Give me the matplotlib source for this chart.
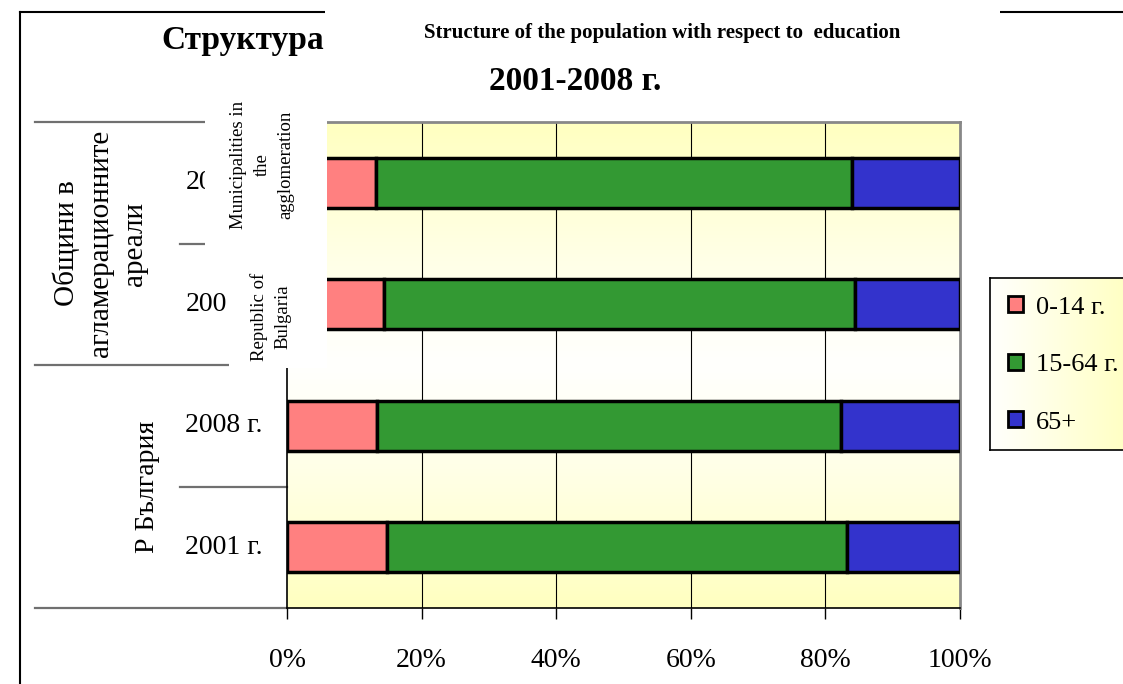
import numpy as np
import matplotlib.pyplot as plt
from matplotlib.patches import Rectangle, Patch
from matplotlib.lines import Line2D
from matplotlib import transforms

plt.rcParams['font.family'] = ['Liberation Serif', 'DejaVu Serif']

# data (bottom to top)
years = ['2001 г.', '2008 г.', '2001 г.', '2008 г.']
groups = ['Р България', 'Общини в\nагламерационните\nареали']
groups_en = ['Republic of\nBulgaria', 'Municipalities in\nthe\nagglomeration']
age_0_14 = [14.9, 13.4, 14.4, 13.2]
age_15_64 = [68.3, 68.9, 70.0, 70.8]
age_65 = [16.8, 17.7, 15.6, 16.0]
series_names = ['0-14 г.', '15-64 г.', '65+']
colors = ['#FF8080', '#339933', '#3333CC']

W, H = 1123, 684
def fx(x):
    return x / W
def fy(y):
    return 1 - y / H

fig = plt.figure(figsize=(W / 100, H / 100), dpi=100)
fig.patch.set_facecolor('white')

ax = fig.add_axes([fx(287), fy(608), (960 - 287) / W, (608 - 122) / H])

# background gradient yellow-white-yellow
t = np.abs(np.linspace(0, 1, 256) - 0.5) * 2
yel = np.array([255, 255, 192]) / 255
wht = np.array([255, 255, 253]) / 255
grad = wht[None, :] * (1 - t[:, None] ** 1.2) + yel[None, :] * (t[:, None] ** 1.2)
ax.imshow(grad[:, None, :], extent=[0, 100, -0.5, 3.5], aspect='auto', zorder=0)

y = np.arange(len(years))
left = np.zeros(len(years))
for vals, c in zip([age_0_14, age_15_64, age_65], colors):
    ax.barh(y, vals, left=left, height=0.41, color=c, edgecolor='black',
            linewidth=2.5, zorder=3)
    left += np.array(vals)

ax.set_xlim(0, 100)
ax.set_ylim(-0.5, 3.5)
ax.set_xticks(np.arange(0, 101, 20))
ax.set_xticklabels([f'{v}%' for v in range(0, 101, 20)], fontsize=20)
ax.tick_params(axis='x', direction='out', length=8, width=1, pad=21)
ax.set_yticks([])
for v in range(20, 100, 20):
    ax.axvline(v, color='black', lw=0.8, zorder=1)
ax.spines['top'].set_color('#888888')
ax.spines['right'].set_color('#888888')
ax.spines['top'].set_linewidth(2)
ax.spines['right'].set_linewidth(2)
ax.spines['left'].set_linewidth(1.2)
ax.spines['bottom'].set_linewidth(1.2)

# multi-level category axis
bt = transforms.blended_transform_factory(ax.transAxes, ax.transData)
for i, b in enumerate(np.arange(len(years) + 1) - 0.5):
    x0 = 35 if i % 2 == 0 else 180
    ax.plot([(x0 - 287) / 673, 0], [b, b], color='#707070', lw=1.6,
            transform=bt, clip_on=False, zorder=1)
# label column is partly hidden by the english boxes
cuts = [None, None, 228, 205]
for i, lab in enumerate(years):
    tx = ax.text((224 - 287) / 673, i, lab, transform=bt, ha='center',
                 va='center', fontsize=20)
    if cuts[i] is not None:
        tx.set_text(lab[:3] if i == 2 else lab[:2])
        tx.set_ha('left')
        tx.set_x((186 - 287) / 673)
        clip = Rectangle((0, 0), fx(cuts[i]), 1, transform=fig.transFigure)
        tx.set_clip_path(clip)
ax.text((148 - 287) / 673, 0.5, groups[0], transform=bt, ha='center',
        va='center', rotation=90, fontsize=20)
ax.text((100 - 287) / 673, 2.5, groups[1], transform=bt, ha='center',
        va='center', rotation=90, fontsize=21, linespacing=1.4)

# chart frame
fig.add_artist(Line2D([fx(20), fx(20)], [fy(12), 0], color='black', lw=1.5))
fig.add_artist(Line2D([fx(20), 1], [fy(12), fy(12)], color='black', lw=1.5))

fig.text(fx(243), fy(40), 'Структура', ha='center', va='center',
         fontsize=24, fontweight='bold')
fig.text(fx(575), fy(82), '2001-2008 г.', ha='center', va='center',
         fontsize=24, fontweight='bold')

# overlaid english boxes
for (x0, y0, x1, y1) in [(325, 0, 1000, 58), (205, 58, 327, 250), (229, 250, 327, 368)]:
    fig.add_artist(Rectangle((fx(x0), fy(y1)), fx(x1) - fx(x0), fy(y0) - fy(y1),
                             transform=fig.transFigure, facecolor='white',
                             edgecolor='none', zorder=10))
fig.text(fx(662), fy(33), 'Structure of the population with respect to  education',
         ha='center', va='center', fontsize=15, fontweight='bold', zorder=11)
fig.text(fx(262), fy(165), groups_en[1], ha='center', va='center', rotation=90,
         fontsize=13.5, linespacing=1.5, zorder=11)
fig.text(fx(271), fy(317), groups_en[0], ha='center', va='center', rotation=90,
         fontsize=13.5, linespacing=1.5, zorder=11)

# legend with gradient
lax = fig.add_axes([fx(990), fy(450), (1135 - 990) / W, (450 - 278) / H])
lg = np.linspace(0, 1, 256)
lgrad = wht[None, :] * (1 - lg[:, None]) + yel[None, :] * lg[:, None]
lax.imshow(lgrad[None, :, :], extent=[0, 1, 0, 1], aspect='auto')
lax.set_xticks([])
lax.set_yticks([])
for s in lax.spines.values():
    s.set_linewidth(1.2)
handles = [Patch(facecolor=c, edgecolor='black', linewidth=2) for c in colors]
lax.legend(handles, series_names, loc='upper left', bbox_to_anchor=(0.0, 1.0),
           frameon=False, fontsize=19, handlelength=0.55, handleheight=0.55,
           handletextpad=0.5, labelspacing=1.33, borderpad=0.6, borderaxespad=0.1)

fig.savefig('out.png', dpi=100)
